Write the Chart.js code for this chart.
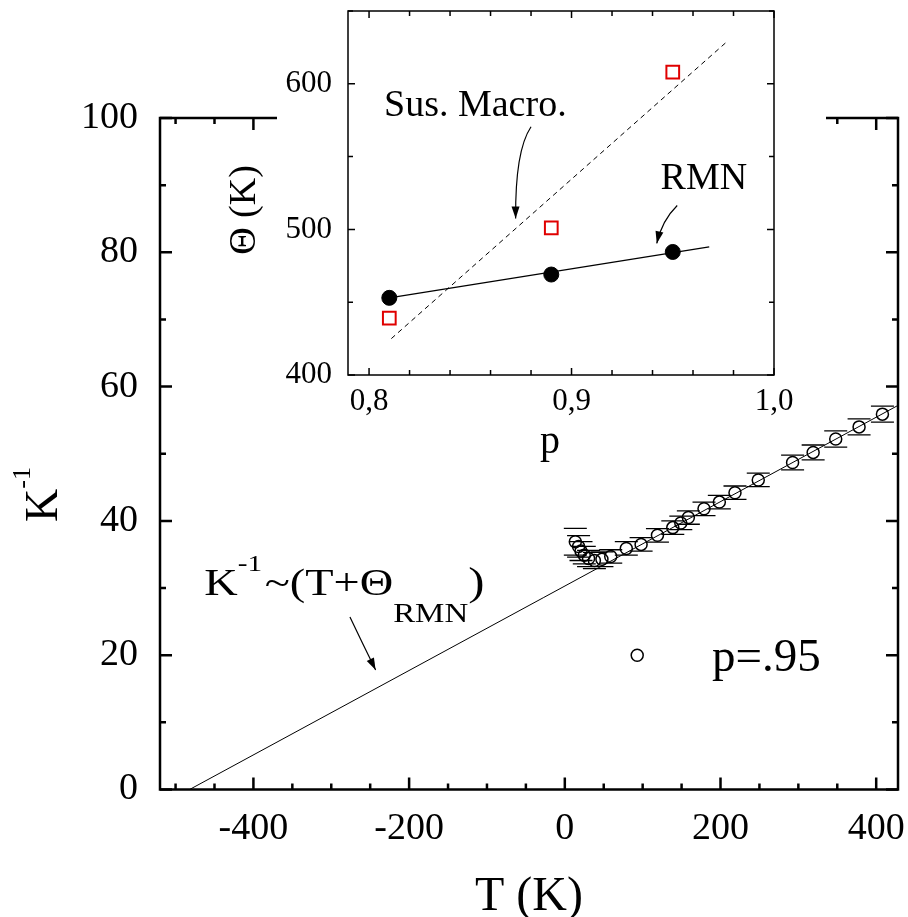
<!DOCTYPE html>
<html>
<head>
<meta charset="utf-8">
<script src="https://cdn.jsdelivr.net/npm/chart.js@4.4.0/dist/chart.umd.min.js"></script>
<style>
  html, body { margin: 0; padding: 0; background: #fff; }
  #wrap { position: relative; width: 908px; height: 917px; }
  #main { position: absolute; left: 0; top: 0; }
  #inset { position: absolute; left: 200px; top: 0; }
</style>
</head>
<body>
<div id="wrap">
  <canvas id="main" width="908" height="917"></canvas>
  <canvas id="inset" width="626" height="480"></canvas>
</div>
<script>
// main plot: K^-1 vs T for p = .95
var tempK = [13.5, 17.7, 20.8, 25, 30.5, 38, 47.7, 59, 79, 98, 119, 138.7, 149, 158.7, 178.8, 198.5, 218.6, 248.5, 292.6, 319, 348, 378, 408];
var invK = [36.9, 36.2, 35.5, 34.9, 34.4, 34.1, 34.3, 34.7, 35.9, 36.5, 37.85, 39.0, 39.7, 40.5, 41.8, 42.8, 44.2, 46.1, 48.7, 50.2, 52.2, 54.0, 55.9];
var invKErr = [2.0, 1.6, 1.4, 1.3, 1.2, 1.2, 1.1, 1.0, 1.0, 1.0, 1.0, 1.0, 1.0, 1.0, 1.0, 1.0, 1.0, 1.0, 1.1, 1.1, 1.2, 1.2, 1.2];
var fitT = [-482, 428];
var fitK = [0, 57.2];
var tTicks = [-400, -200, 0, 200, 400];
var kTicks = [0, 20, 40, 60, 80, 100];

// inset: Theta vs p
var pConc = [0.81, 0.89, 0.95];
var thetaRMN = [453, 469, 484.5];
var thetaSus = [439, 501, 608];
var rmnFitP = [0.81, 0.968];
var rmnFitTheta = [453, 488];
var susFitP = [0.811, 0.976];
var susFitTheta = [425, 628];
var pTicks = [0.8, 0.9, 1.0];
var thetaTicks = [400, 500, 600];

var SERIF = '"Liberation Serif", "Times New Roman", serif';
function font(px) { return px + 'px ' + SERIF; }

function pts(xs, ys) {
  return xs.map(function(x, i) { return { x: x, y: ys[i] }; });
}

function eachTick(min, max, step, major, fn) {
  for (var i = Math.ceil(min / step - 1e-9); i * step <= max + 1e-9; i++) {
    var v = i * step;
    var r = v / major;
    fn(v, Math.abs(r - Math.round(r)) < 1e-6);
  }
}

// draws text pieces one after the other (super/subscripts)
function richText(ctx, parts, x, y) {
  parts.forEach(function(p) {
    ctx.font = font(p.size);
    ctx.fillText(p.t, x, y + (p.dy || 0));
    x += ctx.measureText(p.t).width + (p.gap || 0);
  });
}

function arrow(ctx, x0, y0, cx, cy, x1, y1) {
  ctx.beginPath();
  ctx.moveTo(x0, y0);
  ctx.quadraticCurveTo(cx, cy, x1, y1);
  ctx.stroke();
  var ang = Math.atan2(y1 - cy, x1 - cx);
  var L = 12, W = 4;
  ctx.beginPath();
  ctx.moveTo(x1, y1);
  ctx.lineTo(x1 - L * Math.cos(ang) + W * Math.sin(ang), y1 - L * Math.sin(ang) - W * Math.cos(ang));
  ctx.lineTo(x1 - L * Math.cos(ang) - W * Math.sin(ang), y1 - L * Math.sin(ang) + W * Math.cos(ang));
  ctx.closePath();
  ctx.fill();
}

// no extra room for edge labels, the layout padding handles it
function noEdgePad(s) {
  s.paddingTop = 0; s.paddingBottom = 0;
  s.paddingLeft = 0; s.paddingRight = 0;
}

// frame with inward ticks on all four sides
var boxAxes = {
  id: 'boxAxes',
  afterDraw: function(chart, args, o) {
    var ctx = chart.ctx, a = chart.chartArea;
    var xs = chart.scales.x, ys = chart.scales.y;
    ctx.save();
    ctx.strokeStyle = '#000';
    ctx.lineWidth = o.width;
    ctx.strokeRect(a.left, a.top, a.right - a.left, a.bottom - a.top);
    ctx.beginPath();
    eachTick(xs.min, xs.max, o.xMinor, o.xMajor, function(v, major) {
      var px = xs.getPixelForValue(v), len = major ? o.major : o.minor;
      ctx.moveTo(px, a.bottom); ctx.lineTo(px, a.bottom - len);
      ctx.moveTo(px, a.top); ctx.lineTo(px, a.top + len);
    });
    eachTick(ys.min, ys.max, o.yMinor, o.yMajor, function(v, major) {
      var py = ys.getPixelForValue(v), len = major ? o.major : o.minor;
      ctx.moveTo(a.left, py); ctx.lineTo(a.left + len, py);
      ctx.moveTo(a.right, py); ctx.lineTo(a.right - len, py);
    });
    ctx.stroke();
    ctx.restore();
  }
};

var errorBars = {
  id: 'errorBars',
  afterDatasetsDraw: function(chart) {
    var ctx = chart.ctx, xs = chart.scales.x, ys = chart.scales.y;
    ctx.save();
    ctx.strokeStyle = '#000';
    ctx.lineWidth = 1.3;
    ctx.beginPath();
    tempK.forEach(function(t, i) {
      var x = xs.getPixelForValue(t), y = ys.getPixelForValue(invK[i]);
      var y1 = ys.getPixelForValue(invK[i] + invKErr[i]);
      var y2 = ys.getPixelForValue(invK[i] - invKErr[i]);
      ctx.moveTo(x, y1); ctx.lineTo(x, Math.min(y - 6, y1));
      ctx.moveTo(x, Math.max(y + 6, y2)); ctx.lineTo(x, y2);
      ctx.moveTo(x - 11.5, y1); ctx.lineTo(x + 11.5, y1);
      ctx.moveTo(x - 11.5, y2); ctx.lineTo(x + 11.5, y2);
    });
    ctx.stroke();
    ctx.restore();
  }
};

var mainNotes = {
  id: 'mainNotes',
  afterDraw: function(chart) {
    var ctx = chart.ctx, a = chart.chartArea;
    var xs = chart.scales.x, ys = chart.scales.y;
    ctx.save();
    ctx.fillStyle = '#000';
    ctx.strokeStyle = '#000';
    ctx.textBaseline = 'alphabetic';
    ctx.textAlign = 'left';

    // axis titles
    ctx.font = font(48);
    ctx.textAlign = 'center';
    ctx.fillText('T (K)', (a.left + a.right) / 2, 910);
    ctx.textAlign = 'left';
    ctx.save();
    ctx.translate(57, 522);
    ctx.rotate(-Math.PI / 2);
    richText(ctx, [{ t: 'K', size: 46 }, { t: '-1', size: 26, dy: -27 }], 0, 0);
    ctx.restore();

    // fit formula (set a bit wide, as in the original) and arrow
    ctx.save();
    ctx.translate(xs.getPixelForValue(-463), ys.getPixelForValue(29));
    ctx.scale(1.22, 1);
    richText(ctx, [
      { t: 'K', size: 38 },
      { t: '-1', size: 24, dy: -24, gap: 2 },
      { t: '~(T+\u0398', size: 38 },
      { t: 'RMN', size: 27, dy: 27 },
      { t: ')', size: 40 }
    ], 0, 0);
    ctx.restore();
    ctx.lineWidth = 1.2;
    arrow(ctx, xs.getPixelForValue(-276), ys.getPixelForValue(25.7),
      xs.getPixelForValue(-260), ys.getPixelForValue(21.8),
      xs.getPixelForValue(-243), ys.getPixelForValue(17.8));

    // legend
    ctx.lineWidth = 1.5;
    ctx.beginPath();
    ctx.arc(xs.getPixelForValue(93), ys.getPixelForValue(20), 6, 0, Math.PI * 2);
    ctx.stroke();
    ctx.font = font(47);
    ctx.fillText('p=.95', xs.getPixelForValue(189), ys.getPixelForValue(17.6));
    ctx.restore();
  }
};

var tickFontMain = { family: SERIF, size: 38 };

new Chart(document.getElementById('main'), {
  type: 'scatter',
  data: {
    datasets: [
      {
        type: 'line',
        data: pts(fitT, fitK),
        borderColor: '#000',
        borderWidth: 1,
        pointRadius: 0,
        fill: false,
        order: 2
      },
      {
        data: pts(tempK, invK),
        pointRadius: 6,
        pointBorderWidth: 1.5,
        borderColor: '#000',
        backgroundColor: 'rgba(0,0,0,0)',
        order: 1
      }
    ]
  },
  options: {
    responsive: false,
    devicePixelRatio: 1,
    animation: false,
    layout: { padding: { left: 0, right: 10, top: 118, bottom: 0 } },
    plugins: {
      legend: { display: false },
      tooltip: { enabled: false },
      boxAxes: { width: 2.5, major: 12, minor: 6, xMinor: 50, xMajor: 200, yMinor: 10, yMajor: 20 }
    },
    scales: {
      x: {
        type: 'linear',
        min: -520,
        max: 428,
        grid: { display: false },
        border: { display: false },
        ticks: { font: tickFontMain, color: '#000', padding: 9, autoSkip: false, maxRotation: 0 },
        afterBuildTicks: function(s) { s.ticks = tTicks.map(function(v) { return { value: v }; }); },
        afterFit: function(s) { s.height = 127.5; noEdgePad(s); }
      },
      y: {
        min: 0,
        max: 100,
        grid: { display: false },
        border: { display: false },
        ticks: { font: tickFontMain, color: '#000', padding: 14, autoSkip: false },
        afterBuildTicks: function(s) { s.ticks = kTicks.map(function(v) { return { value: v }; }); },
        afterFit: function(s) { s.width = 160; noEdgePad(s); }
      }
    }
  },
  plugins: [boxAxes, errorBars, mainNotes]
});

// ---- inset ----
var insetMask = {
  id: 'insetMask',
  beforeDraw: function(chart) {
    var ctx = chart.ctx;
    ctx.save();
    ctx.fillStyle = '#fff';
    ctx.fillRect(77, 0, chart.width - 77, 420);
    ctx.restore();
  }
};

var insetNotes = {
  id: 'insetNotes',
  afterDraw: function(chart) {
    var ctx = chart.ctx;
    var xs = chart.scales.x, ys = chart.scales.y;
    ctx.save();
    ctx.fillStyle = '#000';
    ctx.strokeStyle = '#000';
    ctx.textBaseline = 'alphabetic';

    ctx.font = font(40);
    ctx.textAlign = 'center';
    ctx.fillText('p', 350, 453);
    ctx.save();
    ctx.translate(55, 210);
    ctx.rotate(-Math.PI / 2);
    ctx.font = font(38);
    ctx.fillText('\u0398 (K)', 0, 0);
    ctx.restore();

    ctx.textAlign = 'left';
    ctx.font = font(38);
    ctx.fillText('Sus. Macro.', xs.getPixelForValue(0.8074), ys.getPixelForValue(578));
    ctx.fillText('RMN', xs.getPixelForValue(0.944), ys.getPixelForValue(528));

    ctx.lineWidth = 1.2;
    arrow(ctx, xs.getPixelForValue(0.88), ys.getPixelForValue(570.5),
      xs.getPixelForValue(0.8721), ys.getPixelForValue(554.1),
      xs.getPixelForValue(0.8724), ys.getPixelForValue(507.5));
    arrow(ctx, xs.getPixelForValue(0.9522), ys.getPixelForValue(516.4),
      xs.getPixelForValue(0.9447), ys.getPixelForValue(506.2),
      xs.getPixelForValue(0.9421), ys.getPixelForValue(490.4));
    ctx.restore();
  }
};

var tickFontInset = { family: SERIF, size: 31 };

new Chart(document.getElementById('inset'), {
  type: 'scatter',
  data: {
    datasets: [
      {
        data: pts(pConc, thetaRMN),
        pointRadius: 7.5,
        borderColor: '#000',
        backgroundColor: '#000',
        order: 1
      },
      {
        data: pts(pConc, thetaSus),
        pointStyle: 'rect',
        pointRadius: 9,
        pointBorderWidth: 2,
        borderColor: '#e00000',
        backgroundColor: 'rgba(0,0,0,0)',
        order: 1
      },
      {
        type: 'line',
        data: pts(rmnFitP, rmnFitTheta),
        borderColor: '#000',
        borderWidth: 1.2,
        pointRadius: 0,
        fill: false,
        order: 2
      },
      {
        type: 'line',
        data: pts(susFitP, susFitTheta),
        borderColor: '#000',
        borderWidth: 1,
        borderDash: [5, 4],
        pointRadius: 0,
        fill: false,
        order: 2
      }
    ]
  },
  options: {
    responsive: false,
    devicePixelRatio: 1,
    animation: false,
    layout: { padding: { left: 0, right: 52, top: 10, bottom: 0 } },
    plugins: {
      legend: { display: false },
      tooltip: { enabled: false },
      boxAxes: { width: 1.5, major: 7, minor: 5, xMinor: 0.02, xMajor: 0.1, yMinor: 50, yMajor: 100 }
    },
    scales: {
      x: {
        type: 'linear',
        min: 0.7896,
        max: 1.0,
        grid: { display: false },
        border: { display: false },
        ticks: {
          font: tickFontInset, color: '#000', padding: 0, autoSkip: false, maxRotation: 0,
          callback: function(v) { return v.toFixed(1).replace('.', ','); }
        },
        afterBuildTicks: function(s) { s.ticks = pTicks.map(function(v) { return { value: v }; }); },
        afterFit: function(s) { s.height = 105; noEdgePad(s); }
      },
      y: {
        min: 400,
        max: 650,
        grid: { display: false },
        border: { display: false },
        ticks: { font: tickFontInset, color: '#000', padding: 8, autoSkip: false },
        afterBuildTicks: function(s) { s.ticks = thetaTicks.map(function(v) { return { value: v }; }); },
        afterFit: function(s) { s.width = 148; noEdgePad(s); }
      }
    }
  },
  plugins: [insetMask, boxAxes, insetNotes]
});
</script>
</body>
</html>
